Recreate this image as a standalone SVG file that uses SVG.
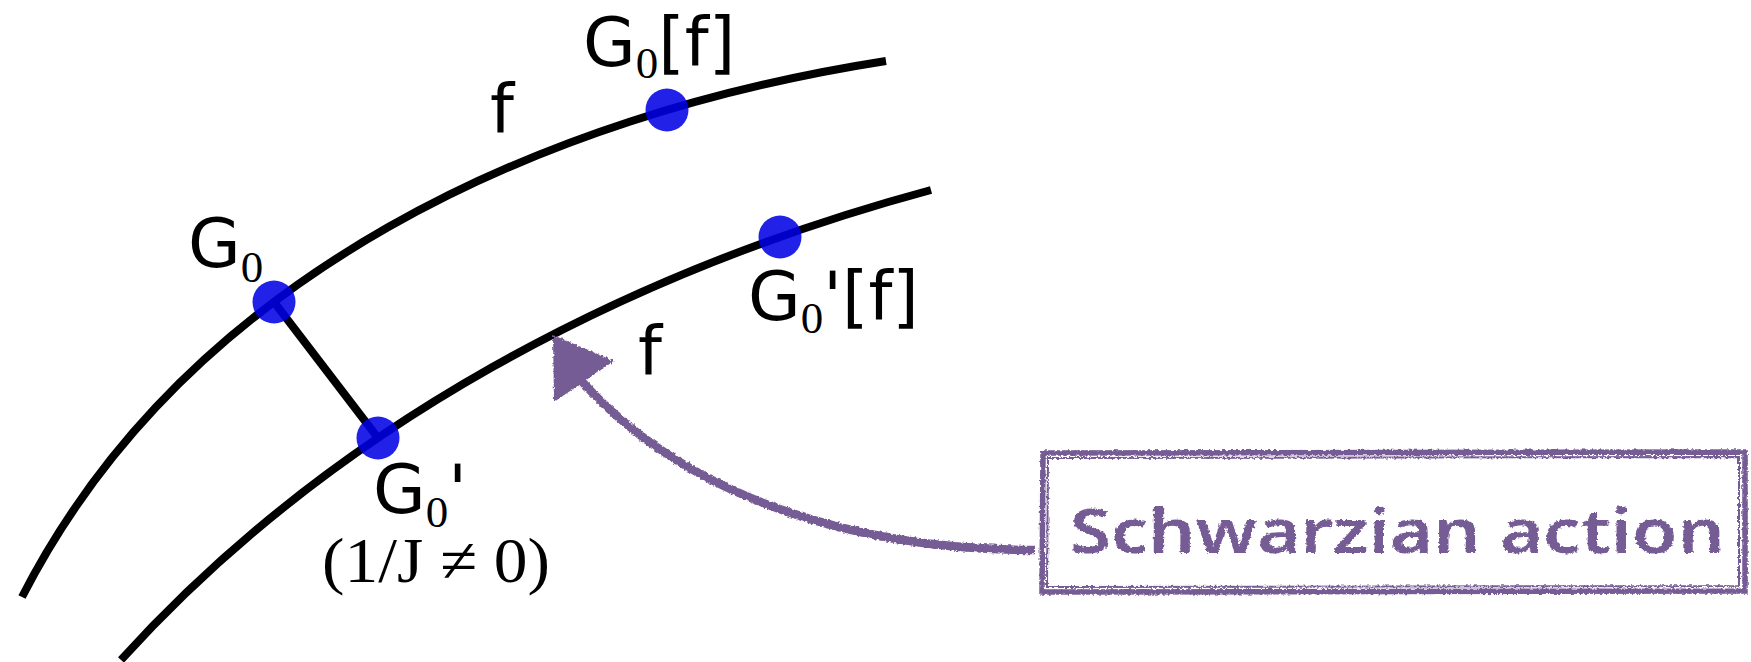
<svg xmlns="http://www.w3.org/2000/svg" width="1751" height="662" viewBox="0 0 1751 662">
  <style>
    .curve { fill: none; stroke: #000; stroke-width: 8; }
    .link { fill: none; stroke: #000; stroke-width: 8; }
    .dot { fill: #0000e4; fill-opacity: 0.87; }
    .lbl { font-family: "DejaVu Sans", sans-serif; font-size: 68px; fill: #000; }
    .sub { font-family: "Liberation Serif", serif; font-size: 45px; }
    .cond { font-family: "Liberation Serif", serif; font-size: 64px; fill: #000; }
    .purple-stroke { fill: none; stroke: #765b95; }
    .purple-fill { fill: #765b95; }
    .hand { font-family: "Noto Sans", sans-serif; font-weight: 600; font-size: 62px; fill: #765b95; }
  </style>
  <defs>
    <filter id="rough" x="-5%" y="-10%" width="110%" height="120%">
      <feTurbulence type="fractalNoise" baseFrequency="0.35" numOctaves="2" seed="4" result="noise"/>
      <feDisplacementMap in="SourceGraphic" in2="noise" scale="4" xChannelSelector="R" yChannelSelector="G"/>
    </filter>
  </defs>
  <rect width="1751" height="662" fill="#fff"/>

  <g id="curves">
    <path class="curve" d="M22,597 C188.6,272.1 544.4,114.1 886,61"/>
    <path class="curve" d="M121,660 C334.5,424.2 626.9,272 931,190"/>
  </g>

  <g id="connectors">
    <line class="link" x1="274" y1="302" x2="378" y2="438"/>
    <g filter="url(#rough)">
      <path class="purple-stroke" stroke-width="8.5" d="M1035,550 C870,550 685,505 572,370"/>
      <polygon class="purple-fill" points="553,335 614,361 554,402"/>
    </g>
  </g>

  <g id="node-G0">
    <circle class="dot" cx="274" cy="302" r="21.5"/>
    <text class="lbl" x="188" y="267">G<tspan class="sub" y="282">0</tspan></text>
  </g>

  <g id="node-G0prime">
    <circle class="dot" cx="378" cy="438" r="21.5"/>
    <text class="lbl" x="373" y="513">G<tspan class="sub" y="527">0</tspan><tspan y="513">'</tspan></text>
    <text class="cond" x="322" y="582" textLength="228" lengthAdjust="spacingAndGlyphs">(1/J ≠ 0)</text>
  </g>

  <g id="node-G0f">
    <circle class="dot" cx="667" cy="110" r="21.5"/>
    <text class="lbl" x="583" y="66">G<tspan class="sub" y="78">0</tspan><tspan y="66">[f]</tspan></text>
  </g>

  <g id="node-G0primef">
    <circle class="dot" cx="780" cy="237" r="21.5"/>
    <text class="lbl" x="748" y="320">G<tspan class="sub" y="333">0</tspan><tspan y="320">'[f]</tspan></text>
  </g>

  <g id="label-f-outer">
    <text class="lbl" x="490" y="133">f</text>
  </g>
  <g id="label-f-inner">
    <text class="lbl" x="638" y="375">f</text>
  </g>

  <g id="node-schwarzian" filter="url(#rough)">
    <path class="purple-stroke" stroke-width="5.5" d="M1043,453 L1745,452 L1745,591 L1042,592 Z"/>
    <path class="purple-stroke" stroke-width="2" d="M1048,458 L1739,457 L1739,586 L1047,587 Z"/>
    <text class="hand" x="1070" y="553" textLength="655" lengthAdjust="spacingAndGlyphs">Schwarzian action</text>
  </g>
</svg>
